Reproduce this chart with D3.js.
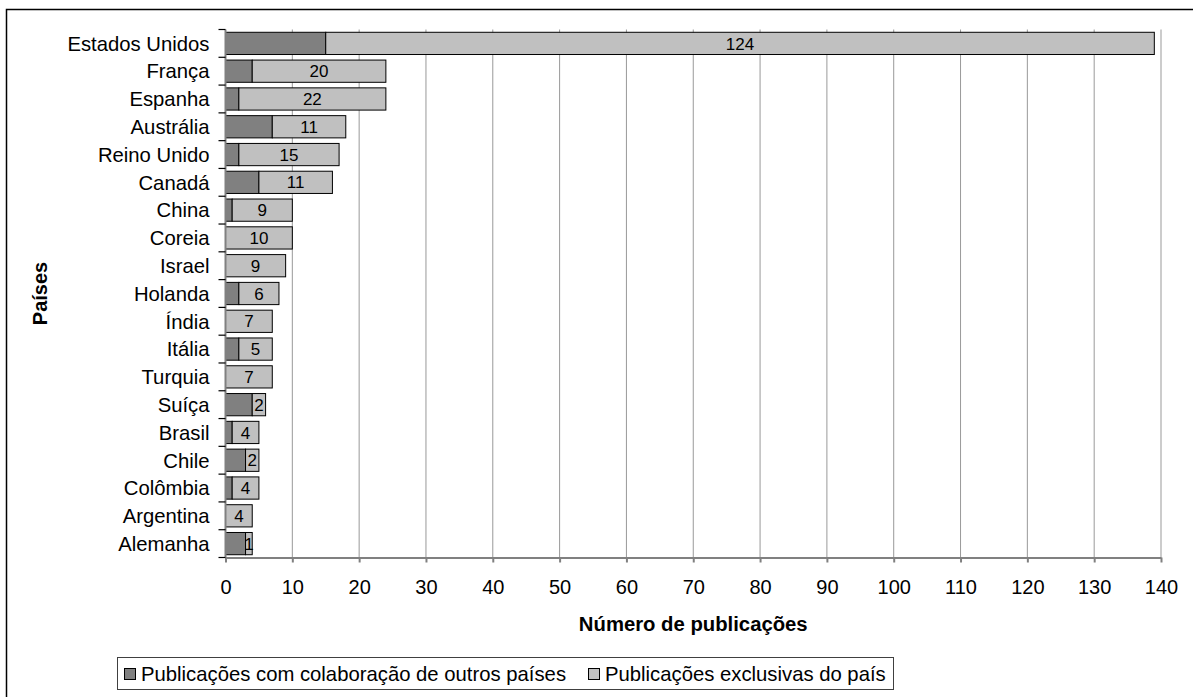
<!DOCTYPE html>
<html>
<head>
<meta charset="utf-8">
<script src="https://cdn.jsdelivr.net/npm/d3@7/dist/d3.min.js"></script>
<style>
  html, body { margin: 0; padding: 0; background: #fff; }
  svg { display: block; font-family: "Liberation Sans", Arial, sans-serif; }
</style>
</head>
<body>
<svg id="chart" width="1193" height="697"></svg>
<script>
// Publications per country, split into co-authored and country-only papers
const countries = ["Estados Unidos", "França", "Espanha", "Austrália", "Reino Unido", "Canadá",
  "China", "Coreia", "Israel", "Holanda", "Índia", "Itália", "Turquia", "Suíça", "Brasil",
  "Chile", "Colômbia", "Argentina", "Alemanha"];
const collaboration = [15, 4, 2, 7, 2, 5, 1, 0, 0, 2, 0, 2, 0, 4, 1, 3, 1, 0, 3];
const exclusive = [124, 20, 22, 11, 15, 11, 9, 10, 9, 6, 7, 5, 7, 2, 4, 2, 4, 4, 1];
const xTicks = [0, 10, 20, 30, 40, 50, 60, 70, 80, 90, 100, 110, 120, 130, 140];
const seriesNames = ["Publicações com colaboração de outros países", "Publicações exclusivas do país"];
const seriesColors = ["#808080", "#c0c0c0"];

const FONT = "'Liberation Sans', Arial, sans-serif";
const svg = d3.select("#chart");
const plot = { left: 225.5, right: 1161, top: 29.5, bottom: 557.5 };

// Outer chart frame (runs past the right and bottom edges)
svg.append("rect")
  .attr("x", 6.5).attr("y", 9.5)
  .attr("width", 1300).attr("height", 800)
  .attr("fill", "none").attr("stroke", "#000").attr("stroke-width", 1.5);

const x = d3.scaleLinear().domain([0, 140]).range([plot.left, plot.right]);
const y = d3.scaleBand().domain(countries).range([plot.top, plot.bottom]).paddingInner(0.2).paddingOuter(0.1);

// Vertical gridlines
svg.append("g").selectAll("line")
  .data(xTicks.filter(t => t > 0))
  .join("line")
  .attr("x1", d => x(d)).attr("x2", d => x(d))
  .attr("y1", plot.top).attr("y2", plot.bottom)
  .attr("stroke", "#999999").attr("stroke-width", 1);

// Stacked bars
const rows = countries.map((c, i) => ({ c, a: collaboration[i], b: exclusive[i] }));
const gBars = svg.append("g");
rows.forEach(r => {
  if (r.a > 0) {
    gBars.append("rect")
      .attr("x", x(0)).attr("y", y(r.c))
      .attr("width", x(r.a) - x(0)).attr("height", y.bandwidth())
      .attr("fill", seriesColors[0]).attr("stroke", "#000").attr("stroke-width", 1);
  }
  gBars.append("rect")
    .attr("x", x(r.a)).attr("y", y(r.c))
    .attr("width", x(r.a + r.b) - x(r.a)).attr("height", y.bandwidth())
    .attr("fill", seriesColors[1]).attr("stroke", "#000").attr("stroke-width", 1);
  gBars.append("text")
    .attr("x", (x(r.a) + x(r.a + r.b)) / 2)
    .attr("y", y(r.c) + y.bandwidth() / 2)
    .attr("dy", "0.36em")
    .attr("text-anchor", "middle")
    .attr("font-size", 17)
    .attr("fill", "#000")
    .text(r.b);
});

// X axis
const xAxis = svg.append("g")
  .attr("transform", `translate(0,${plot.bottom})`)
  .call(d3.axisBottom(x).tickValues(xTicks).tickSize(5).tickPadding(17).tickSizeOuter(0));
xAxis.select(".domain").attr("stroke", "#808080").attr("stroke-width", 2);
xAxis.selectAll(".tick line").attr("stroke", "#808080").attr("stroke-width", 2);
xAxis.selectAll(".tick text").attr("font-size", 20).attr("fill", "#000").attr("font-family", FONT);

// Y axis with ticks on category boundaries
const yAxis = svg.append("g").attr("transform", `translate(${plot.left},0)`);
yAxis.append("line")
  .attr("x1", 0).attr("x2", 0).attr("y1", plot.top).attr("y2", plot.bottom)
  .attr("stroke", "#808080").attr("stroke-width", 2);
const boundaries = d3.range(countries.length + 1).map(i => plot.top + i * (plot.bottom - plot.top) / countries.length);
yAxis.selectAll("line.tk").data(boundaries).join("line")
  .attr("class", "tk")
  .attr("x1", -7).attr("x2", 0)
  .attr("y1", d => d).attr("y2", d => d)
  .attr("stroke", "#000").attr("stroke-width", 1.2);
yAxis.selectAll("text").data(countries).join("text")
  .attr("x", -16)
  .attr("y", d => y(d) + y.bandwidth() / 2)
  .attr("dy", "0.36em")
  .attr("text-anchor", "end")
  .attr("font-size", 20.3)
  .attr("fill", "#000")
  .text(d => d);

// Axis titles
svg.append("text")
  .attr("x", (plot.left + plot.right) / 2).attr("y", 631)
  .attr("text-anchor", "middle").attr("font-size", 20.3).attr("font-weight", "bold")
  .text("Número de publicações");
svg.append("text")
  .attr("transform", `translate(47,${(plot.top + plot.bottom) / 2}) rotate(-90)`)
  .attr("text-anchor", "middle").attr("font-size", 20).attr("font-weight", "bold")
  .text("Países");

// Legend
const legend = svg.append("g");
legend.append("rect")
  .attr("x", 117.5).attr("y", 657.5).attr("width", 776).attr("height", 32)
  .attr("fill", "#fff").attr("stroke", "#404040").attr("stroke-width", 1);
const legendX = [124, 588];
seriesNames.forEach((name, i) => {
  legend.append("rect")
    .attr("x", legendX[i] + 0.5).attr("y", 668.5).attr("width", 11).attr("height", 11)
    .attr("fill", seriesColors[i]).attr("stroke", "#000").attr("stroke-width", 1);
  legend.append("text")
    .attr("x", legendX[i] + 17).attr("y", 674).attr("dy", "0.36em")
    .attr("font-size", 20.3).attr("fill", "#000")
    .text(name);
});
</script>
</body>
</html>
